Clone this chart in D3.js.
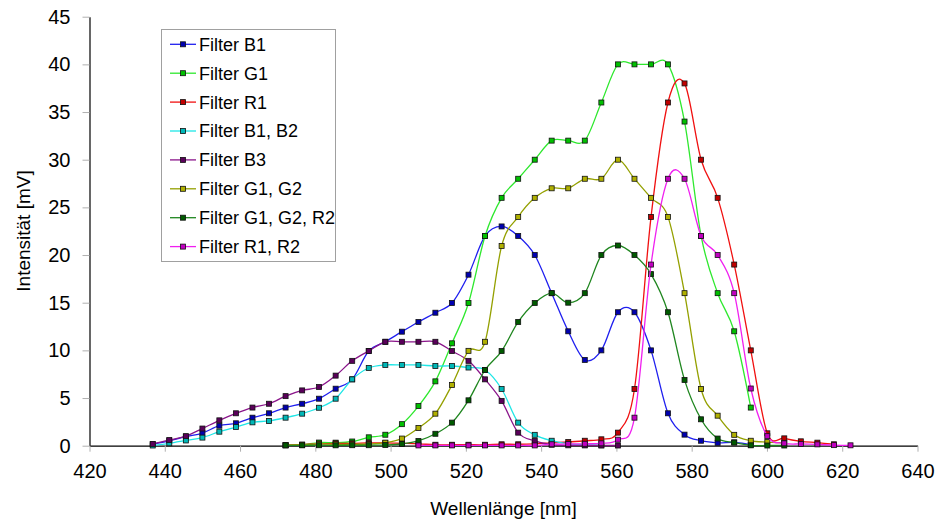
<!DOCTYPE html>
<html>
<head>
<meta charset="utf-8">
<script src="https://cdn.jsdelivr.net/npm/d3@7"></script>
<style>
  html, body { margin: 0; padding: 0; background: #fff; }
  svg { display: block; font-family: "Liberation Sans", Arial, sans-serif; }
</style>
</head>
<body>
<svg id="chart" width="939" height="522"></svg>
<script>
// ---- data ----
const wavelengths = [436.8, 441.2, 445.6, 450.0, 454.5, 458.9, 463.3, 467.7, 472.1, 476.5,
  481.0, 485.4, 489.8, 494.2, 498.6, 503.0, 507.4, 511.9, 516.3, 520.7,
  525.1, 529.5, 533.9, 538.3, 542.8, 547.2, 551.6, 556.0, 560.4, 564.8,
  569.2, 573.7, 578.1, 582.5, 586.9, 591.3, 595.7, 600.1, 604.6, 609.0,
  613.4, 617.8, 622.2];

const seriesNames = ["Filter B1", "Filter G1", "Filter R1", "Filter B1, B2", "Filter B3",
  "Filter G1, G2", "Filter G1, G2, R2", "Filter R1, R2"];

const _ = null;
const filterB1 = [0.15, 0.5, 0.95, 1.33, 2.1, 2.35, 2.94, 3.4, 4.0, 4.4,
  4.93, 5.98, 6.96, 9.93, 10.9, 11.96, 12.98, 13.95, 14.97, 17.94,
  22, 23, 22, 20, 16, 12, 9, 10, 14, 14,
  10, 3.4, 1.16, 0.52, 0.3, 0.35, 0.1, _, _, _,
  _, _, _];
const filterG1 = [_, _, _, _, _, _, _, _, 0.05, 0.1,
  0.33, 0.32, 0.44, 0.88, 1.15, 2.26, 4.16, 6.75, 10.74, 14.97,
  22, 26, 28, 30, 32, 32, 32, 36, 40, 40,
  40, 40, 34, 22, 16, 12, 4, _, _, _,
  _, _, _];
const filterR1 = [_, _, _, _, _, _, _, _, 0.05, 0.1,
  0.2, 0.25, 0.25, 0.3, 0.3, 0.25, 0.2, 0.1, 0.1, 0.1,
  0.1, 0.15, 0.15, 0.2, 0.3, 0.39, 0.52, 0.67, 1.37, 5.95,
  24, 36, 38, 30, 26, 19, 10, 1.3, 0.77, 0.46,
  0.32, 0.15, _];
const filterB1B2 = [0.02, 0.25, 0.55, 0.85, 1.47, 1.96, 2.45, 2.6, 2.94, 3.36,
  3.98, 4.93, 6.96, 8.15, 8.47, 8.47, 8.47, 8.36, 8.36, 8.2,
  7.94, 5.95, 2.42, 1.14, 0.52, 0.2, 0.1, 0.05, _, _,
  _, _, _, _, _, _, _, _, _, _,
  _, _, _];
const filterB3 = [0.18, 0.6, 1.0, 1.8, 2.66, 3.4, 4.0, 4.4, 5.2, 5.8,
  6.16, 7.35, 8.9, 9.93, 10.9, 10.9, 10.9, 10.9, 9.93, 8.9,
  6.96, 4.7, 1.37, 0.5, 0.1, 0.04, 0.03, 0.02, 0.02, _,
  _, _, _, _, _, _, _, _, _, _,
  _, _, _];
const filterG1G2 = [_, _, _, _, _, _, _, _, 0.05, 0.1,
  0.2, 0.15, 0.15, 0.18, 0.32, 0.75, 1.86, 3.36, 6.37, 9.95,
  10.9, 20.95, 24, 26, 27, 27, 28, 28, 30, 28,
  26, 24, 16, 5.95, 3.15, 1.14, 0.52, 0.38, 0.3, _,
  _, _, _];
const filterG1G2R2 = [_, _, _, _, _, _, _, _, 0.04, 0.04,
  0.05, 0.04, 0.05, 0.05, 0.07, 0.18, 0.5, 1.25, 2.42, 4.76,
  7.94, 9.93, 12.98, 14.97, 16, 15, 16, 20, 21, 20,
  18, 14, 6.9, 2.77, 0.75, 0.33, 0.04, 0.02, 0.02, _,
  _, _, _];
const filterR1R2 = [_, _, _, _, _, _, _, _, _, _,
  _, _, _, _, _, _, 0.03, 0.03, 0.03, 0.03,
  0.03, 0.03, 0.03, 0.03, 0.15, 0.18, 0.2, 0.25, 0.63, 2.94,
  19, 28, 28, 22, 20, 16, 6, 1.0, 0.25, 0.18,
  0.14, 0.06, 0.04];

const xTicks = [420, 440, 460, 480, 500, 520, 540, 560, 580, 600, 620, 640];
const yTicks = [0, 5, 10, 15, 20, 25, 30, 35, 40, 45];

const lineColors = ["#1f1fef", "#2ee82e", "#f01010", "#1ee6e6", "#8a148a", "#94a000", "#1f861f", "#f020f0"];
const markerColors = ["#0000b0", "#00c000", "#c00000", "#00b8b8", "#5a005a", "#b0b000", "#005a00", "#c000c0"];

const allSeries = [filterB1, filterG1, filterR1, filterB1B2, filterB3, filterG1G2, filterG1G2R2, filterR1R2];

// ---- chart ----
const svg = d3.select("#chart");
svg.append("rect").attr("width", 939).attr("height", 522).attr("fill", "#fff");

const x = d3.scaleLinear().domain([420, 640]).range([89.5, 917.5]);
const y = d3.scaleLinear().domain([0, 45]).range([445.7, 16.7]);

// y axis
const yAxis = svg.append("g").attr("transform", `translate(${x(420)},0)`)
  .call(d3.axisLeft(y).tickValues(yTicks).tickSize(7).tickPadding(12).tickSizeOuter(0));
yAxis.select(".domain").attr("stroke", "#000").attr("stroke-width", 1.2);
yAxis.selectAll(".tick line").attr("stroke", "#b0b0b0");
yAxis.selectAll("text").attr("font-size", 20).attr("fill", "#000")
  .attr("font-family", "Liberation Sans, Arial, sans-serif");

// x axis
const xAxis = svg.append("g").attr("transform", `translate(0,${y(0)})`)
  .call(d3.axisBottom(x).tickValues(xTicks).tickSize(6).tickSizeOuter(0));
xAxis.select(".domain").attr("stroke", "#000").attr("stroke-width", 1.2);
xAxis.selectAll(".tick line").attr("stroke", "#b0b0b0");
xAxis.selectAll("text").attr("font-size", 20).attr("fill", "#000")
  .attr("dy", null).attr("y", 32)
  .attr("font-family", "Liberation Sans, Arial, sans-serif");

// axis titles
svg.append("text").attr("x", 503.5).attr("y", 515).attr("text-anchor", "middle")
  .attr("font-size", 19).text("Wellenlänge [nm]");
svg.append("text").attr("transform", `translate(30,231) rotate(-90)`).attr("text-anchor", "middle")
  .attr("font-size", 19).text("Intensität [mV]");

// lines
const line = d3.line()
  .defined(d => d.v !== null)
  .x(d => x(d.w)).y(d => y(d.v))
  .curve(d3.curveCatmullRom.alpha(0));

allSeries.forEach((vals, si) => {
  const pts = vals.map((v, i) => ({ w: wavelengths[i], v }));
  svg.append("path").datum(pts)
    .attr("d", line).attr("fill", "none")
    .attr("stroke", lineColors[si]).attr("stroke-width", 1.3);
  svg.append("g").selectAll("rect").data(pts.filter(d => d.v !== null)).join("rect")
    .attr("x", d => x(d.w) - 2.5).attr("y", d => y(d.v) - 2.5)
    .attr("width", 5).attr("height", 5)
    .attr("fill", markerColors[si]).attr("stroke", "#111").attr("stroke-width", 0.8);
});

// legend
const lg = svg.append("g");
lg.append("rect").attr("x", 161.5).attr("y", 29.5).attr("width", 174).attr("height", 232)
  .attr("fill", "#fff").attr("stroke", "#a0a0a0");
seriesNames.forEach((name, i) => {
  const cy = 44.3 + i * 28.9;
  lg.append("line").attr("x1", 170).attr("x2", 196).attr("y1", cy).attr("y2", cy)
    .attr("stroke", lineColors[i]).attr("stroke-width", 1.3);
  lg.append("rect").attr("x", 183 - 2.5).attr("y", cy - 2.5).attr("width", 5).attr("height", 5)
    .attr("fill", markerColors[i]).attr("stroke", "#111").attr("stroke-width", 0.8);
  lg.append("text").attr("x", 199).attr("y", cy).attr("dy", "0.36em")
    .attr("font-size", 18).text(name);
});
</script>
</body>
</html>
